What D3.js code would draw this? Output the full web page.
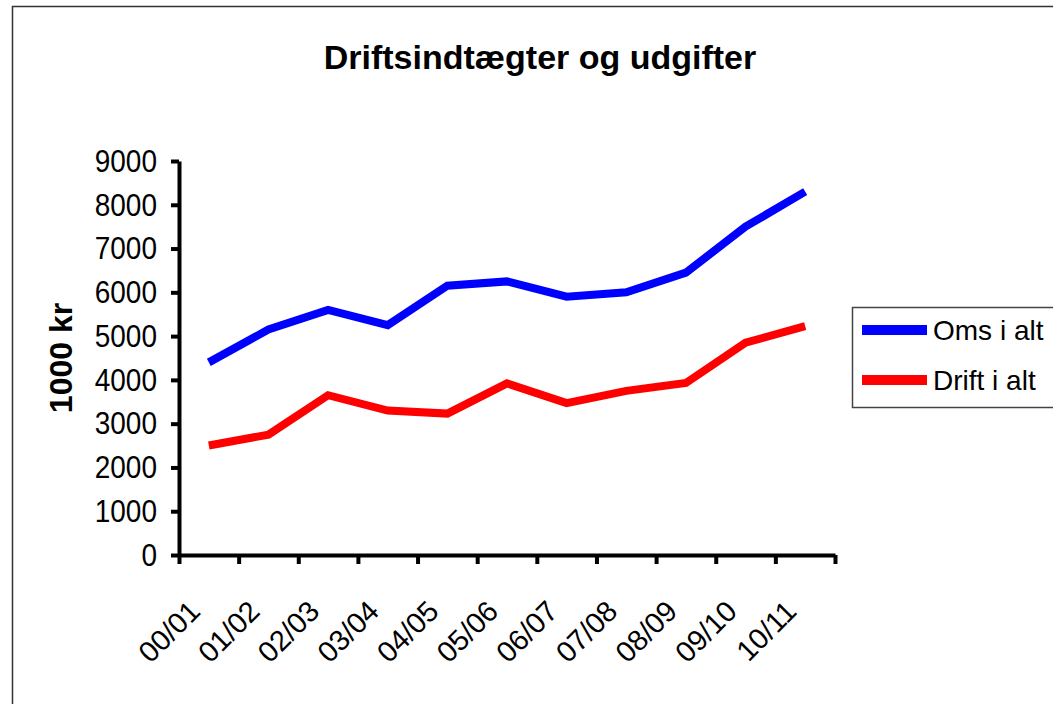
<!doctype html>
<html>
  <head>
    <script src="https://cdn.jsdelivr.net/npm/d3@7"></script>
    <style>
      body { margin:0; background:#fff; }
      text { font-family: "Liberation Sans", Arial, sans-serif; }
    </style>
  </head>
  <body>
    <div id="chart"></div>
    <script>
      // categories and series
      var years = ["00/01","01/02","02/03","03/04","04/05","05/06","06/07","07/08","08/09","09/10","10/11"];
      var omsIAlt = [4400, 5150, 5600, 5250, 6150, 6250, 5900, 6000, 6450, 7500, 8300];
      var driftIAlt = [2500, 2750, 3650, 3300, 3230, 3920, 3470, 3750, 3930, 4850, 5230];
      var yTicks = [0,1000,2000,3000,4000,5000,6000,7000,8000,9000];
      var seriesNames = ["Oms i alt", "Drift i alt"];
      var seriesColors = ["#0000ff", "#ff0000"];

      var W = 1053, H = 704;
      var svg = d3.select("#chart").append("svg")
        .attr("width", W).attr("height", H);

      // outer frame
      svg.append("rect")
        .attr("x", 12.5).attr("y", 6.5)
        .attr("width", W + 20).attr("height", H + 20)
        .attr("fill", "none").attr("stroke", "#333").attr("stroke-width", 1.5);

      // title
      svg.append("text")
        .attr("x", 540).attr("y", 69)
        .attr("text-anchor", "middle")
        .style("font-size", "34px").style("font-weight", "bold")
        .text("Driftsindtægter og udgifter");

      // scales
      var x = d3.scaleBand().domain(years).range([179, 835]);
      var xEdge = d3.scaleLinear().domain([0, years.length]).range([179, 835]);
      var y = d3.scaleLinear().domain([0, 9000]).range([555, 161]);

      // y axis
      var yAxis = svg.append("g")
        .attr("transform", "translate(179,0)")
        .call(d3.axisLeft(y).tickValues(yTicks).tickFormat(d3.format("d"))
          .tickSize(8).tickSizeOuter(0).tickPadding(14));
      yAxis.select(".domain").attr("stroke", "#000").attr("stroke-width", 4);
      yAxis.selectAll(".tick line").attr("stroke", "#000").attr("stroke-width", 4);
      yAxis.selectAll(".tick text")
        .attr("fill", "#000")
        .style("font-size", "28px")
        .attr("transform", "scale(1,1.15)");

      // x axis (ticks on category edges)
      var xAxis = svg.append("g")
        .attr("transform", "translate(0,555)")
        .call(d3.axisBottom(xEdge).ticks(years.length).tickFormat("").tickSize(9).tickSizeOuter(0));
      xAxis.select(".domain").attr("stroke", "#000").attr("stroke-width", 4);
      xAxis.selectAll(".tick line").attr("stroke", "#000").attr("stroke-width", 4);

      // x labels rotated
      svg.selectAll("xLabels")
        .data(years)
        .enter()
        .append("text")
          .attr("transform", function(d) {
            return "translate(" + (x(d) + x.bandwidth() / 2 - 7) + ",613) rotate(-45)";
          })
          .attr("text-anchor", "end")
          .style("font-size", "29px")
          .text(function(d) { return d; });

      // y label
      svg.append("text")
        .attr("transform", "translate(72,358) rotate(-90)")
        .attr("text-anchor", "middle")
        .style("font-size", "32px").style("font-weight", "bold")
        .text("1000 kr");

      // lines
      var line = d3.line()
        .x(function(d, i) { return x(years[i]) + x.bandwidth() / 2; })
        .y(function(d) { return y(d); });

      var allSeries = [omsIAlt, driftIAlt];
      svg.selectAll("seriesLines")
        .data(allSeries)
        .enter()
        .append("path")
          .attr("d", function(d) { return line(d); })
          .attr("stroke", function(d, i) { return seriesColors[i]; })
          .attr("fill", "none")
          .attr("stroke-width", 8);

      // legend
      var legend = svg.append("g");
      legend.append("rect")
        .attr("x", 852.5).attr("y", 307.5)
        .attr("width", 230).attr("height", 100)
        .attr("fill", "#fff").attr("stroke", "#444").attr("stroke-width", 1.5);
      var items = legend.selectAll("legendItems")
        .data(seriesNames)
        .enter()
        .append("g")
          .attr("transform", function(d, i) { return "translate(0," + (330 + i * 50) + ")"; });
      items.append("line")
        .attr("x1", 862).attr("x2", 927)
        .attr("y1", 0).attr("y2", 0)
        .attr("stroke", function(d, i) { return seriesColors[i]; })
        .attr("stroke-width", 10);
      items.append("text")
        .attr("x", 933).attr("y", 0)
        .attr("dy", "0.35em")
        .style("font-size", "28px")
        .text(function(d) { return d; });
    </script>
  </body>
</html>
